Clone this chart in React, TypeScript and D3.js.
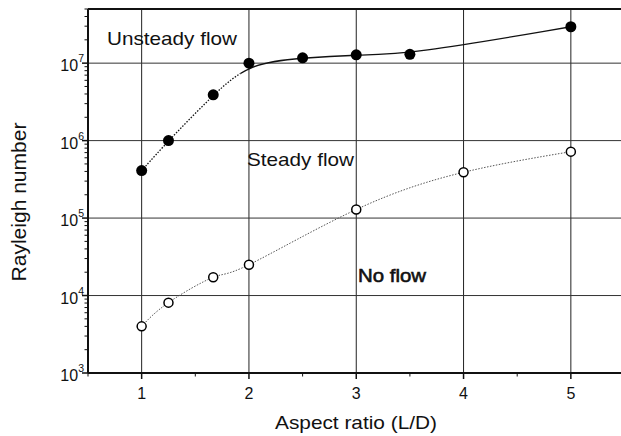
import React from "react";
import * as d3 from "d3";

const unsteadyX = [1, 1.25, 1.667, 2, 2.5, 3, 3.5, 5];
const unsteadyY = [4.1e5, 1.0e6, 3.9e6, 1.0e7, 1.17e7, 1.28e7, 1.3e7, 2.95e7];
const noFlowX = [1, 1.25, 1.667, 2, 3, 4, 5];
const noFlowY = [4.0e3, 8.1e3, 1.72e4, 2.5e4, 1.29e5, 3.9e5, 7.2e5];
const xTicks = [1, 2, 3, 4, 5];
const yTickExps = [3, 4, 5, 6, 7];
const regionLabels = ["Unsteady flow", "Steady flow", "No flow"];

const W = 621;
const H = 436;
const left = 88;
const top = 9;
const bottom = 373;

export default function App() {
  const x = d3.scaleLinear().domain([0.5, 5.5]).range([left, left + 5 * 107.3]);
  const y = d3.scaleLog().domain([1e3, 5e7]).range([bottom, top]);
  const right = x(5.5);

  const uLine = d3
    .line<[number, number]>()
    .x((d) => x(d[0]))
    .y((d) => y(d[1]))
    .curve(d3.curveBasis);
  const nLine = d3
    .line<[number, number]>()
    .x((d) => x(d[0]))
    .y((d) => y(d[1]))
    .curve(d3.curveNatural);

  const uPts: [number, number][] = unsteadyX.map((v, i) => [v, unsteadyY[i]]);
  const nPts: [number, number][] = noFlowX.map((v, i) => [v, noFlowY[i]]);
  const uPath = uLine(uPts) || "";
  const nPath = nLine(nPts) || "";

  const minorY: number[] = [];
  for (let e = 3; e <= 7; e++) {
    for (let m = 2; m <= 9; m++) {
      const v = m * Math.pow(10, e);
      if (v <= 5e7) minorY.push(v);
    }
  }
  const minorX = [0.5, 1.5, 2.5, 3.5, 4.5];
  const font = "'Liberation Sans', Arial, sans-serif";
  const split = x(1.92);

  return (
    <svg
      width={W}
      height={H}
      style={{ position: "fixed", left: 0, top: 0, background: "#fff" }}
      fontFamily={font}
    >
      <defs>
        <clipPath id="leftClip">
          <rect x={0} y={0} width={split} height={H} />
        </clipPath>
        <clipPath id="rightClip">
          <rect x={split} y={0} width={W} height={H} />
        </clipPath>
      </defs>
      <rect x={0} y={0} width={W} height={H} fill="#fff" />
      {/* grid */}
      {xTicks.map((t) => (
        <line key={"gx" + t} x1={x(t)} x2={x(t)} y1={top} y2={bottom} stroke="#222" strokeWidth={1} />
      ))}
      {yTickExps.map((e) => (
        <line
          key={"gy" + e}
          x1={left}
          x2={right}
          y1={y(Math.pow(10, e))}
          y2={y(Math.pow(10, e))}
          stroke="#333"
          strokeWidth={1}
        />
      ))}
      {/* frame */}
      <line x1={left} x2={right} y1={top} y2={top} stroke="#111" strokeWidth={2} />
      <line x1={left} x2={left} y1={top} y2={bottom} stroke="#111" strokeWidth={2} />
      <line x1={left} x2={right} y1={bottom} y2={bottom} stroke="#111" strokeWidth={2} />
      {/* y ticks */}
      {minorY.map((v, i) => (
        <line key={"my" + i} x1={left - 3.5} x2={left} y1={y(v)} y2={y(v)} stroke="#111" strokeWidth={1} />
      ))}
      {yTickExps.map((e) => (
        <line
          key={"ty" + e}
          x1={left - 6}
          x2={left}
          y1={y(Math.pow(10, e))}
          y2={y(Math.pow(10, e))}
          stroke="#111"
          strokeWidth={1.5}
        />
      ))}
      {yTickExps.map((e) => (
        <text key={"ly" + e} x={left - 4} y={y(Math.pow(10, e)) + 8} fontSize={16} textAnchor="end" fill="#111">
          10
          <tspan dy={-9} fontSize={10.5}>
            {e}
          </tspan>
        </text>
      ))}
      {/* x ticks */}
      {minorX.map((t) => (
        <line key={"mx" + t} x1={x(t)} x2={x(t)} y1={bottom} y2={bottom + 3.5} stroke="#111" strokeWidth={1} />
      ))}
      {xTicks.map((t) => (
        <line key={"tx" + t} x1={x(t)} x2={x(t)} y1={bottom} y2={bottom + 6} stroke="#111" strokeWidth={1.5} />
      ))}
      {xTicks.map((t) => (
        <text key={"lx" + t} x={x(t)} y={399} fontSize={16} textAnchor="middle" fill="#111">
          {t}
        </text>
      ))}
      {/* curves */}
      <path d={uPath} fill="none" stroke="#111" strokeWidth={1.3} strokeDasharray="1.5 1.5" clipPath="url(#leftClip)" />
      <path d={uPath} fill="none" stroke="#111" strokeWidth={1.3} clipPath="url(#rightClip)" />
      <path d={nPath} fill="none" stroke="#555" strokeWidth={1} strokeDasharray="1.5 1.5" />
      {/* markers */}
      {uPts.map((p, i) => (
        <circle key={"u" + i} cx={x(p[0])} cy={y(p[1])} r={5.5} fill="#000" />
      ))}
      {nPts.map((p, i) => (
        <circle key={"n" + i} cx={x(p[0])} cy={y(p[1])} r={4.5} fill="#fff" stroke="#000" strokeWidth={1.5} />
      ))}
      {/* region labels */}
      <text x={107} y={45} fontSize={19} fill="#111" textLength={130} lengthAdjust="spacingAndGlyphs">
        {regionLabels[0]}
      </text>
      <text x={247} y={166} fontSize={19} fill="#111" textLength={107} lengthAdjust="spacingAndGlyphs">
        {regionLabels[1]}
      </text>
      <text
        x={358}
        y={282}
        fontSize={19}
        fill="#111"
        stroke="#111"
        strokeWidth={0.6}
        textLength={68}
        lengthAdjust="spacingAndGlyphs"
      >
        {regionLabels[2]}
      </text>
      {/* axis titles */}
      <text x={356} y={429} fontSize={19} textAnchor="middle" fill="#111" textLength={162} lengthAdjust="spacingAndGlyphs">
        Aspect ratio (L/D)
      </text>
      <text
        transform={`translate(26,202) rotate(-90)`}
        fontSize={20}
        textAnchor="middle"
        fill="#111"
        textLength={159}
        lengthAdjust="spacingAndGlyphs"
      >
        Rayleigh number
      </text>
    </svg>
  );
}
